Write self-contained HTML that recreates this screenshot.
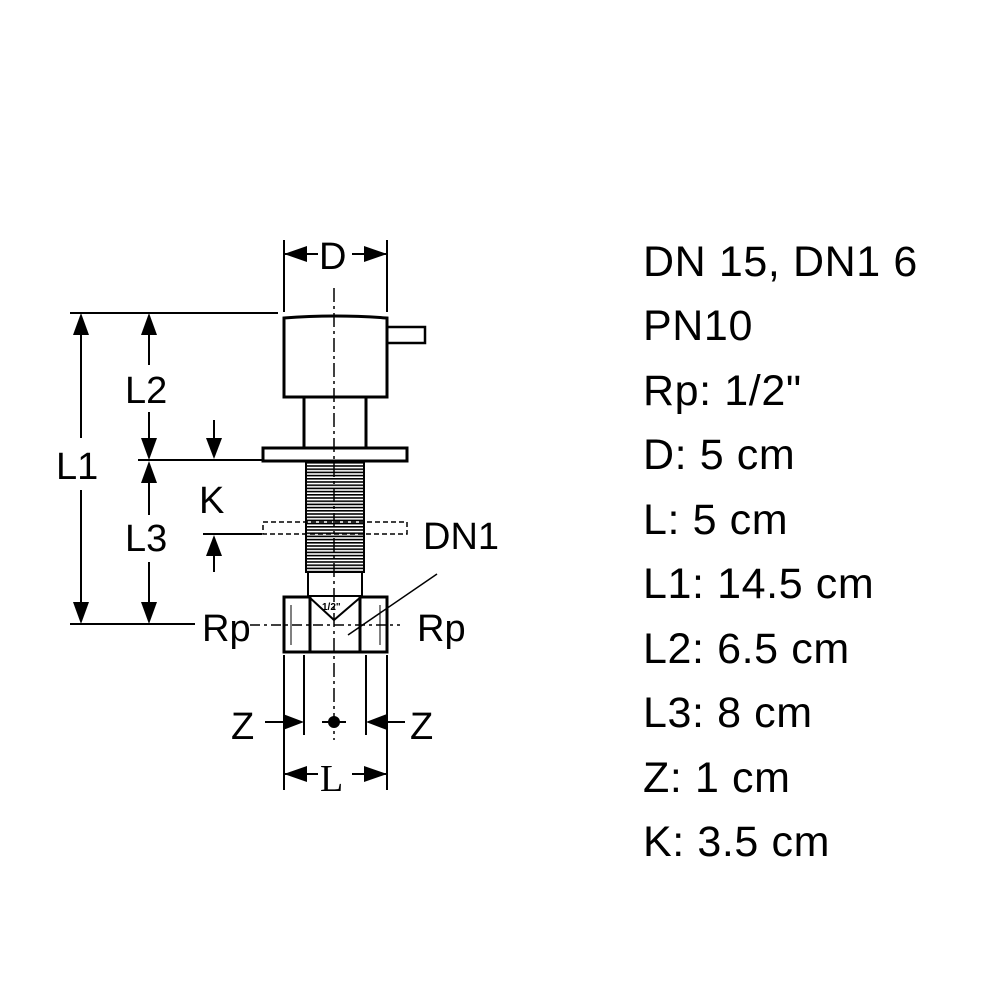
<!DOCTYPE html>
<html><head><style>body{margin:0;background:#fff}svg{display:block}</style></head>
<body>
<svg width="990" height="990" viewBox="0 0 990 990" xmlns="http://www.w3.org/2000/svg" font-family="Liberation Sans, sans-serif">
<defs>
<pattern id="thr" x="0" y="462" width="10" height="3.2" patternUnits="userSpaceOnUse"><rect width="10" height="1.6" fill="#000"/></pattern>
</defs>
<g stroke="#000" fill="none" stroke-width="2">
<line x1="284" y1="240" x2="284" y2="312"/>
<line x1="387" y1="240" x2="387" y2="312"/>
<line x1="284" y1="254" x2="318" y2="254"/><line x1="352" y1="254" x2="387" y2="254"/>
<line x1="334" y1="288" x2="334" y2="740" stroke-dasharray="14,4,3,4" stroke-width="1.5"/>
<path d="M284 318 Q334 314 387 318 L387 397 L284 397 Z" stroke-width="3"/>
<rect x="387" y="327" width="38" height="16" stroke-width="2.5"/>
<line x1="304" y1="397" x2="304" y2="448" stroke-width="3"/>
<line x1="366" y1="397" x2="366" y2="448" stroke-width="3"/>
<rect x="263" y="448" width="144" height="13" stroke-width="3"/>
<rect x="306" y="462" width="58" height="110" fill="url(#thr)" stroke-width="2"/>
<rect x="263" y="522" width="144" height="12" stroke-dasharray="5,3" stroke-width="1.5"/>
<rect x="308" y="572" width="54" height="24" stroke-width="2"/>
<path d="M308 596 L334 620 L362 596" stroke-width="2"/>
<rect x="284" y="597" width="26" height="55" stroke-width="3"/>
<rect x="360" y="597" width="27" height="55" stroke-width="3"/>
<line x1="310" y1="652" x2="360" y2="652" stroke-width="3"/>
<line x1="291" y1="605" x2="291" y2="645" stroke-width="1"/>
<line x1="380" y1="605" x2="380" y2="645" stroke-width="1"/>
<line x1="348" y1="635" x2="437" y2="574" stroke-width="1.5"/>
<line x1="250" y1="625" x2="400" y2="625" stroke-dasharray="10,4,3,4" stroke-width="1.5"/>
<line x1="70" y1="313" x2="278" y2="313"/>
<line x1="138" y1="460" x2="262" y2="460"/>
<line x1="203" y1="534" x2="262" y2="534"/>
<line x1="70" y1="624" x2="195" y2="624"/>
<line x1="81" y1="320" x2="81" y2="438"/><line x1="81" y1="490" x2="81" y2="605"/>
<line x1="149" y1="320" x2="149" y2="365"/><line x1="149" y1="412" x2="149" y2="440"/>
<line x1="149" y1="475" x2="149" y2="515"/><line x1="149" y1="562" x2="149" y2="605"/>
<line x1="214" y1="420" x2="214" y2="440"/><line x1="214" y1="550" x2="214" y2="572"/>
<line x1="284" y1="655" x2="284" y2="790"/><line x1="387" y1="655" x2="387" y2="790"/>
<line x1="304" y1="655" x2="304" y2="735"/><line x1="366" y1="655" x2="366" y2="735"/>
<line x1="265" y1="722" x2="284" y2="722"/><line x1="387" y1="722" x2="405" y2="722"/>
<line x1="322" y1="722" x2="346" y2="722"/>
<line x1="284" y1="774" x2="318" y2="774"/><line x1="352" y1="774" x2="387" y2="774"/>
</g>
<g fill="#000">
<polygon points="284,254 307,246 307,262"/><polygon points="387,254 364,246 364,262"/>
<polygon points="81,313 73,335 89,335"/><polygon points="81,624 73,602 89,602"/>
<polygon points="149,313 141,335 157,335"/><polygon points="149,460 141,438 157,438"/>
<polygon points="149,461 141,483 157,483"/><polygon points="149,624 141,602 157,602"/>
<polygon points="214,459 206,438 222,438"/><polygon points="214,535 206,556 222,556"/>
<polygon points="304,722 283,714 283,730"/><polygon points="366,722 387,714 387,730"/>
<circle cx="334" cy="722" r="6"/>
<polygon points="284,774 307,766 307,782"/><polygon points="387,774 364,766 364,782"/>
<text x="322" y="610" font-size="10" font-weight="bold">1/2"</text>
</g>
<g font-size="38" fill="#000">
<text x="319" y="269">D</text>
<text x="125" y="403">L2</text>
<text x="56" y="479">L1</text>
<text x="199" y="513">K</text>
<text x="125" y="551">L3</text>
<text x="423" y="549">DN1</text>
<text x="202" y="641">Rp</text>
<text x="417" y="641">Rp</text>
<text x="231" y="739">Z</text>
<text x="410" y="739">Z</text>
<text x="320" y="791" font-family="Liberation Serif, serif">L</text>
</g>
<g font-size="43" fill="#000" letter-spacing="0.6">
<text x="643" y="276">DN 15, DN1 6</text>
<text x="643" y="340">PN10</text>
<text x="643" y="405">Rp: 1/2"</text>
<text x="643" y="469">D: 5 cm</text>
<text x="643" y="534">L: 5 cm</text>
<text x="643" y="598">L1: 14.5 cm</text>
<text x="643" y="663">L2: 6.5 cm</text>
<text x="643" y="727">L3: 8 cm</text>
<text x="643" y="792">Z: 1 cm</text>
<text x="643" y="856">K: 3.5 cm</text>
</g>
</svg>
</body></html>
